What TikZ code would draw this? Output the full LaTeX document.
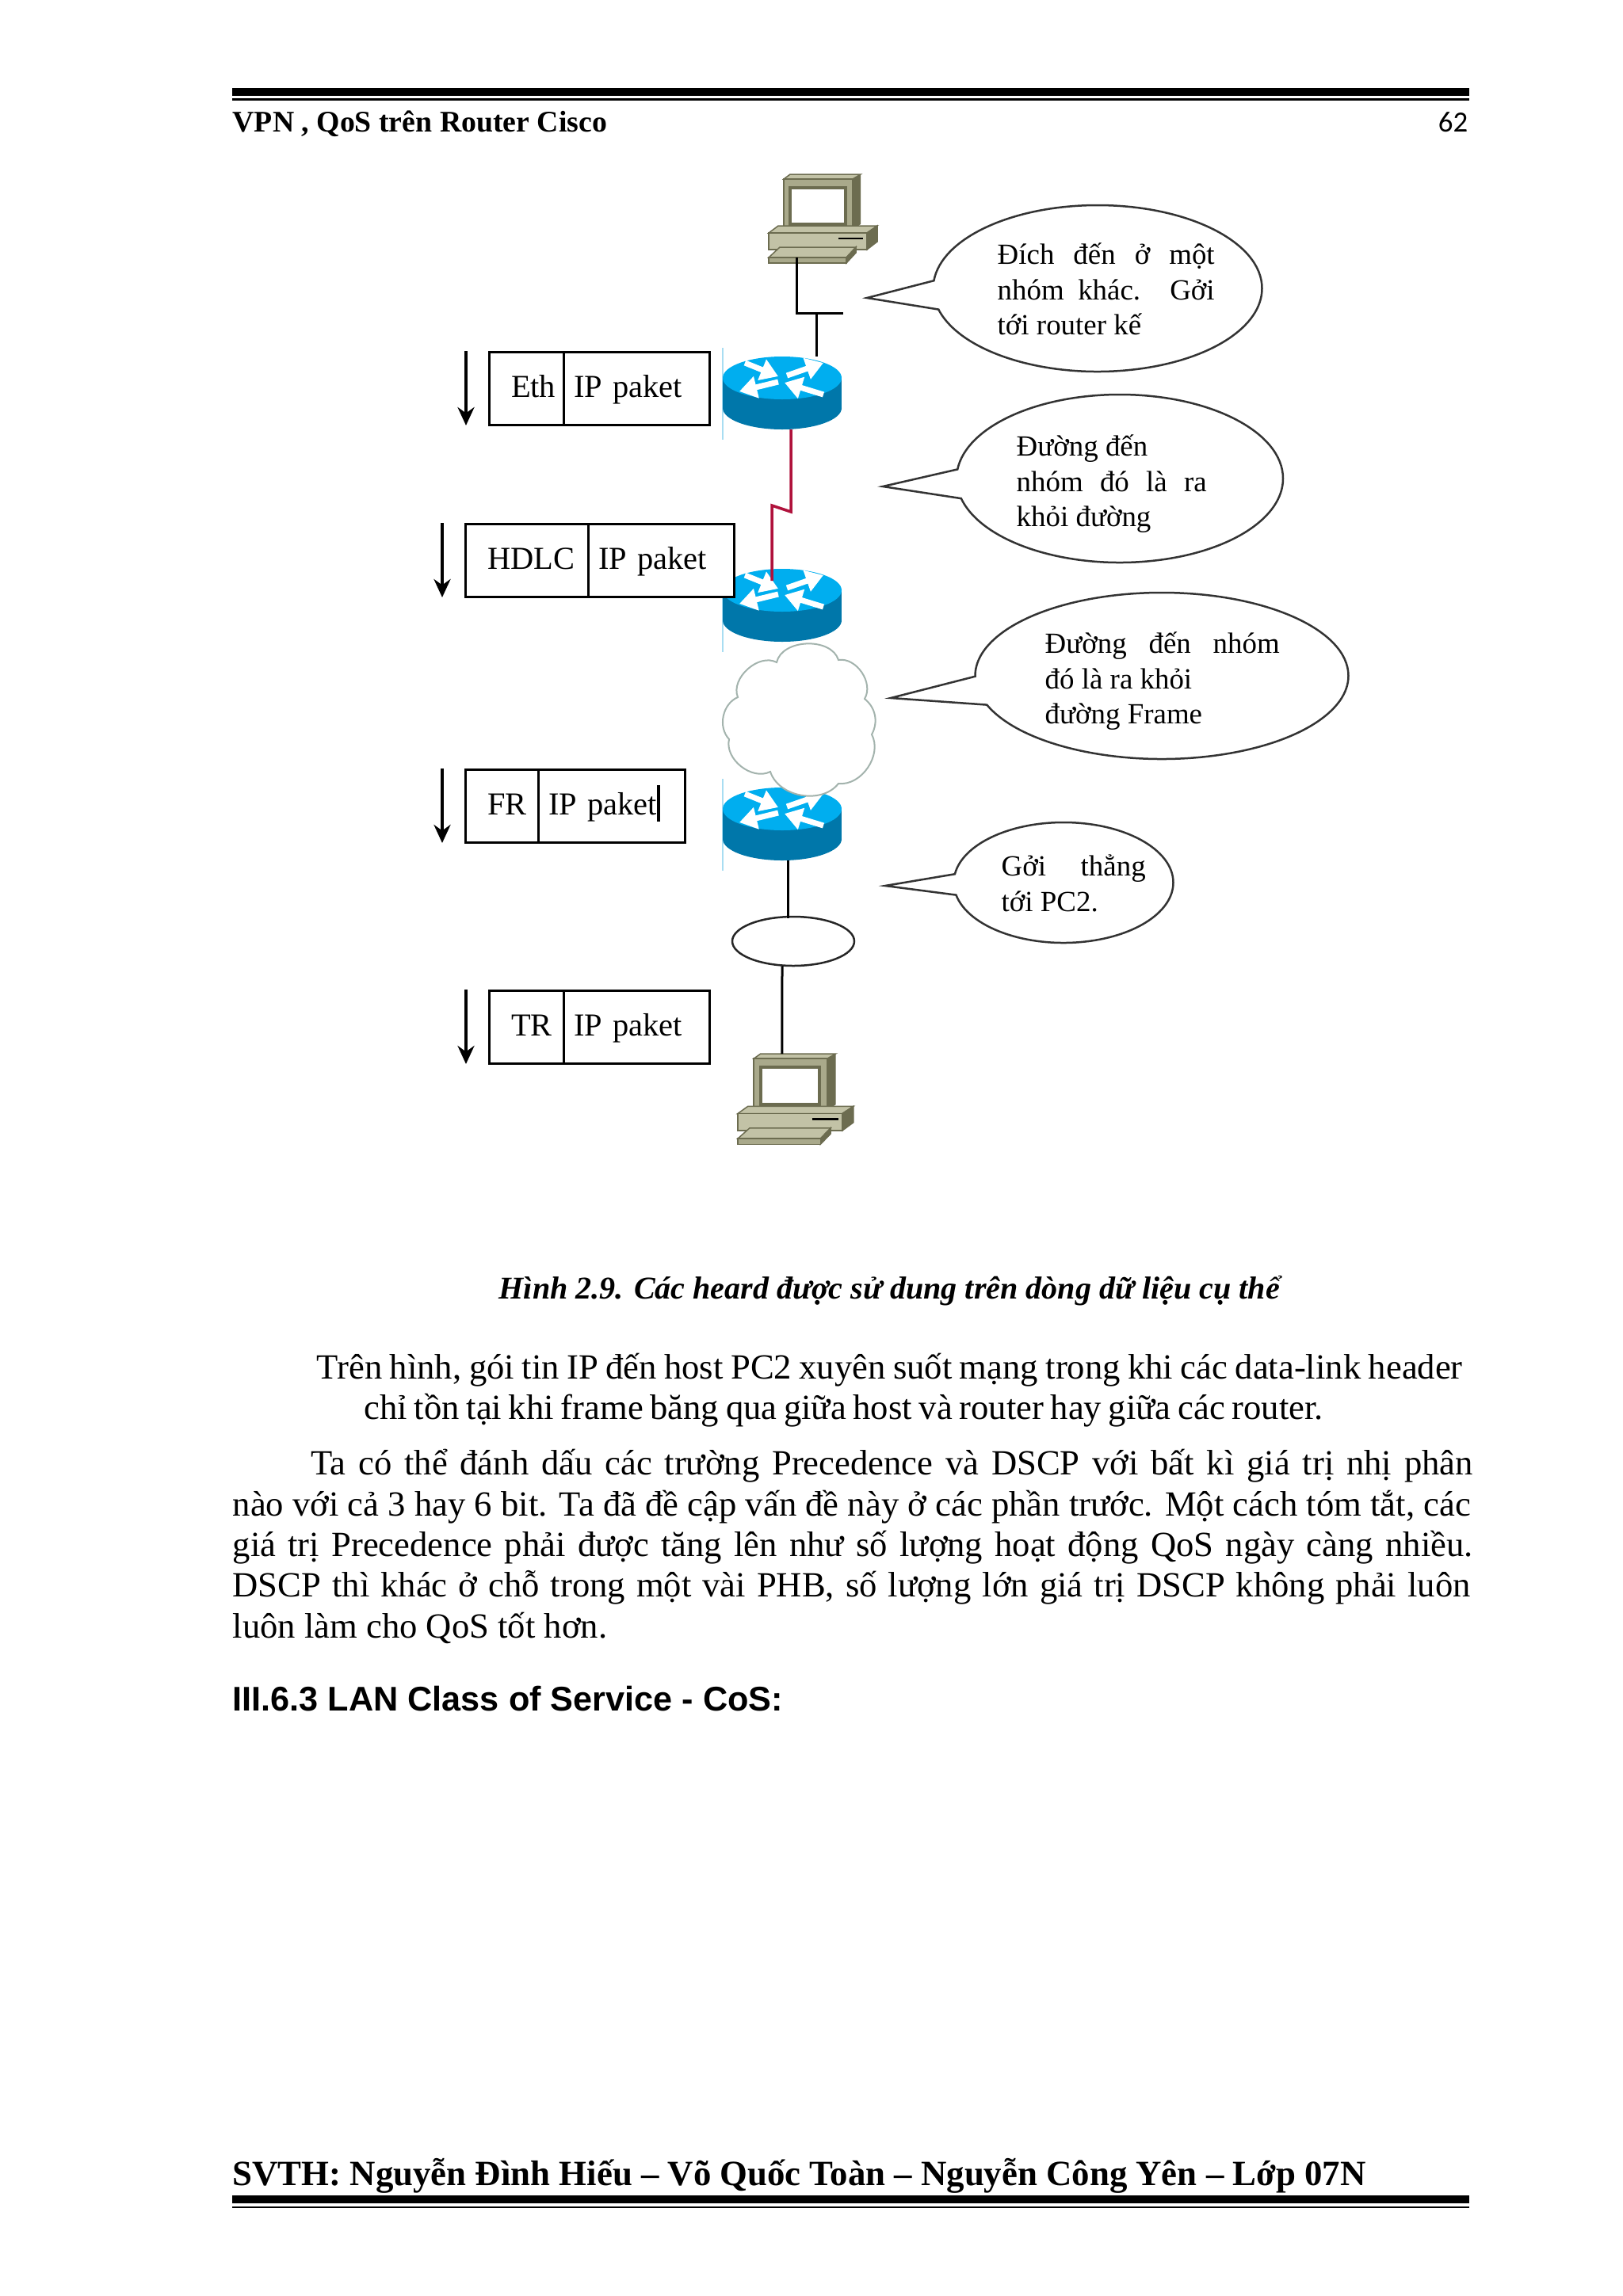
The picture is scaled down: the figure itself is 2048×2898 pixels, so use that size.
\documentclass[tikz,border=0pt]{standalone}
\usepackage{xcolor}
\usepackage{fontspec}
\setmainfont{Liberation Serif}
\newfontfamily\arialfont{Liberation Sans}
\newfontfamily\calibrifont{Carlito}
\usetikzlibrary{arrows.meta,positioning,calc,shapes.geometric,shapes.callouts}
\definecolor{rtTop}{HTML}{00AEEF}
\definecolor{rtSide}{HTML}{0077AA}
\definecolor{rtEdge}{HTML}{A8DDF2}
\definecolor{pcLight}{HTML}{C2C2A6}
\definecolor{pcMid}{HTML}{A9A98B}
\definecolor{pcDark}{HTML}{6C6C50}
\definecolor{linkRed}{HTML}{B0123C}
\definecolor{cloudEdge}{HTML}{A3B3AD}
\tikzset{
  routericon/.pic={
    \draw[rtEdge,line width=.2mm] (-75.5,-38) -- (-75.5,78);
    \fill[rtSide] (-75,0) rectangle (75,38);
    \fill[rtSide] (0,38) ellipse [x radius=75,y radius=27];
    \fill[rtTop] (0,0) ellipse [x radius=75,y radius=27];
    \draw[rtarrow] (-47,-19) -- (-5,-2);
    \draw[rtarrow] (6,-3) -- (52,-19);
    \draw[rtarrow] (-5,5) -- (-54,17);
    \draw[rtarrow] (52,21) -- (3,6);
    \coordinate (-n) at (0,-27);
    \coordinate (-s) at (0,65);
  },
  pcicon/.pic={
    \filldraw[pcDark,fill=pcLight,line width=.15mm] (19,6) -- (27,0) -- (116,0) -- (106,6) -- cycle;
    \fill[pcDark] (106,6) -- (116,0) -- (116,63) -- (106,70) -- cycle;
    \filldraw[pcDark,fill=pcMid,line width=.15mm] (19,6) rectangle (106,70);
    \filldraw[pcDark,fill=white,line width=.4mm] (27,17) rectangle (97,63);
    \filldraw[pcDark,fill=pcLight,line width=.15mm] (0,74) -- (12,65) -- (137,65) -- (124,74) -- cycle;
    \filldraw[pcDark,fill=pcDark,line width=.15mm] (124,74) -- (137,65) -- (137,85) -- (124,95) -- cycle;
    \filldraw[pcDark,fill=pcLight,line width=.15mm] (0,74) rectangle (124,95);
    \draw[black,line width=.25mm] (88,81) -- (119,81);
    \filldraw[pcDark,fill=pcLight,line width=.15mm] (14,92) -- (110,92) -- (98,105) -- (0,105) -- cycle;
    \filldraw[pcDark,fill=pcDark,line width=.15mm] (98,105) -- (110,92) -- (110,99) -- (98,112) -- cycle;
    \filldraw[pcDark,fill=pcMid,line width=.15mm] (0,105) rectangle (98,112);
    \coordinate (-top) at (60,0);
    \coordinate (-base) at (35,105);
  },
  rtarrow/.style={white,line width=.7mm,-{Triangle[length=2.2mm,width=2.7mm]}},
  wire/.style={black,line width=.3mm},
  hdrarrow/.style={black,line width=.4mm,-{Stealth[length=2.3mm,width=2.1mm]}},
  hdrcell/.style={draw,fill=white,line width=.3mm,outer sep=0pt,minimum height=9.2mm,
    inner xsep=2.8mm,inner ysep=0pt,text width=#1-5.6mm,align=left,text height=3.2mm,text depth=1mm,
    font=\fontsize{11.5}{13}\selectfont},
  paycell/.style={hdrcell=#1,inner xsep=1.3mm,text width=#1-2.6mm},
  bubble/.style={ellipse callout,draw=black!80,fill=white,line width=.25mm,inner sep=0pt,
    callout pointer arc=20},
  bubtext/.style={anchor=north west,inner sep=0pt,align=left,font=\fontsize{10.5}{12.7}\selectfont},
  bodyline/.style={anchor=base west,inner sep=0pt,font=\fontsize{12.7}{14.6}\selectfont}
}
\begin{document}
\begin{tikzpicture}[x=.1mm,y=-.1mm]
\useasboundingbox (0,0) rectangle (2048,2898);
% page head
\fill[black] (293,111) rectangle (1854,121);
\fill[black] (293,124) rectangle (1854,127);
\node[bodyline,font=\fontsize{10.75}{13}\selectfont\bfseries] (head) at (293,166) {VPN , QoS trên Router Cisco};
\node[bodyline,anchor=base east,font=\fontsize{10.5}{13}\selectfont\calibrifont] (pageno) at (1853,166) {62};
% routers and hosts
\pic (pc1) at (970,220) {pcicon};
\pic (r1) at (987,477) {routericon};
\pic (r2) at (987,745) {routericon};
\pic (r3) at (987,1021) {routericon};
\pic[xscale=1.065,yscale=1.02] (pc2) at (931,1330) {pcicon};
% frame boxes
\node[hdrcell=9.4cm/10,anchor=north west] (eth) at (617,444) {Eth};
\node[paycell=18.4cm/10,right=0pt of eth] (ethip) {IP paket};
\node[hdrcell=15.5cm/10,anchor=north west] (hdlc) at (587,661) {HDLC};
\node[paycell=18.4cm/10,right=0pt of hdlc] (hdlcip) {IP paket};
\node[hdrcell=9.2cm/10,anchor=north west] (fr) at (587,971) {FR};
\node[paycell=18.5cm/10,right=0pt of fr] (frip) {IP paket};
\node[fill=black,inner sep=0pt,minimum width=.45mm,minimum height=4.6mm] (cursor) at (831,1014) {};
\node[hdrcell=9.4cm/10,anchor=north west] (tr) at (617,1250) {TR};
\node[paycell=18.4cm/10,right=0pt of tr] (trip) {IP paket};
\foreach \a in {eth,hdlc,fr,tr} \draw[hdrarrow] ($(\a.north west)+(-29,-1)$) -- ($(\a.south west)+(-29,1)$);
% links
\coordinate (sw1) at (1030,395);
\coordinate (sw1e) at (1064,395);
\draw[wire] (pc1-base) |- (sw1e);
\draw[wire] (sw1) -- ($(r1-n)+(43,0)$);
\coordinate (zig1) at (998,646);
\coordinate (zig2) at (974,638);
\draw[linkRed,line width=.35mm] ($(r1-s)+(11,0)$) -- (zig1) -- (zig2) -- ($(r2-n)+(-13,15)$);
\node[draw=black!85,fill=white,ellipse,line width=.25mm,minimum width=15.4cm/10,minimum height=6.2cm/10,inner sep=0pt] (lan) at (1001,1188) {};
\draw[wire] ($(r3-s)+(7,0)$) -- ($(lan.north)+(-7,3)$);
\draw[wire] ($(lan.south)+(-14,-1)$) -- ($(pc2-top)+(-8,0)$);
% cloud
\filldraw[cloudEdge,fill=white,line width=.2mm]
  (980,836) to[bend left=75] (1058,833) to[bend left=65] (1091,882) to[bend left=40] (1100,927)
  to[bend left=62] (1058,989) to[bend left=62] (972,974) to[bend left=65] (920,933)
  to[bend left=55] (931,880) to[bend left=70] cycle;
% speech bubbles
\coordinate (tip1) at (1094,376);
\coordinate (tip2) at (1114,614);
\coordinate (tip3) at (1124,881);
\coordinate (tip4) at (1117,1118);
\node[bubble,callout absolute pointer={(tip1)},minimum width=41.5mm,minimum height=21mm] (bub1) at (1385,364) {};
\node[bubble,callout absolute pointer={(tip2)},minimum width=41.2mm,minimum height=21.2mm] (bub2) at (1413,604) {};
\node[bubble,callout absolute pointer={(tip3)},minimum width=47.1mm,minimum height=21mm] (bub3) at (1466,853) {};
\node[bubble,callout absolute pointer={(tip4)},minimum width=27.7mm,minimum height=15.2mm] (bub4) at (1342,1114) {};
\node[bubtext] (txt1) at (1258,306) {\makebox[27.4mm][s]{Đích đến ở một}\\\makebox[27.4mm][s]{nhóm khác. Gởi}\\tới router kế};
\node[bubtext] (txt2) at (1282,548) {Đường đến\\\makebox[24mm][s]{nhóm đó là ra}\\khỏi đường};
\node[bubtext] (txt3) at (1318,797) {\makebox[29.6mm][s]{Đường đến nhóm}\\đó là ra khỏi\\đường Frame};
\node[bubtext] (txt4) at (1263,1078) {\makebox[18.2mm][s]{Gởi thẳng}\\tới PC2.};
% caption and text
\node[bodyline,font=\fontsize{11.4}{14}\selectfont\bfseries\itshape] (caption) at (629,1639) {Hình 2.9. Các heard được sử dung trên dòng dữ liệu cụ thể};
\node[bodyline] (l1) at (399,1740) {\makebox[144.6mm][s]{Trên hình, gói tin IP đến host PC2 xuyên suốt mạng trong khi các data-link header}};
\node[bodyline] (l2) at (459,1791.5) {\makebox[121mm][s]{chỉ tồn tại khi frame băng qua giữa host và router hay giữa các router.}};
\node[bodyline] (l3) at (392,1861.5) {\makebox[146.6mm][s]{Ta có thể đánh dấu các trường Precedence và DSCP với bất kì giá trị nhị phân}};
\node[bodyline] (l4) at (293,1913) {\makebox[156.2mm][s]{nào với cả 3 hay 6 bit. Ta đã đề cập vấn đề này ở các phần trước. Một cách tóm tắt, các}};
\node[bodyline] (l5) at (293,1964) {\makebox[156.5mm][s]{giá trị Precedence phải được tăng lên như số lượng hoạt động QoS ngày càng nhiều.}};
\node[bodyline] (l6) at (293,2015) {\makebox[156.2mm][s]{DSCP thì khác ở chỗ trong một vài PHB, số lượng lớn giá trị DSCP không phải luôn}};
\node[bodyline] (l7) at (293,2067) {luôn làm cho QoS tốt hơn.};
\node[bodyline,font=\fontsize{12.3}{15}\selectfont\arialfont\bfseries] (sect) at (293,2159) {III.6.3 LAN Class of Service - CoS:};
% page foot
\node[bodyline,font=\fontsize{12.75}{15}\selectfont\bfseries] (foot) at (293,2758) {SVTH: Nguyễn Đình Hiếu – Võ Quốc Toàn – Nguyễn Công Yên – Lớp 07N};
\fill[black] (293,2771) rectangle (1854,2781);
\fill[black] (293,2785) rectangle (1854,2787);
\end{tikzpicture}
\end{document}
